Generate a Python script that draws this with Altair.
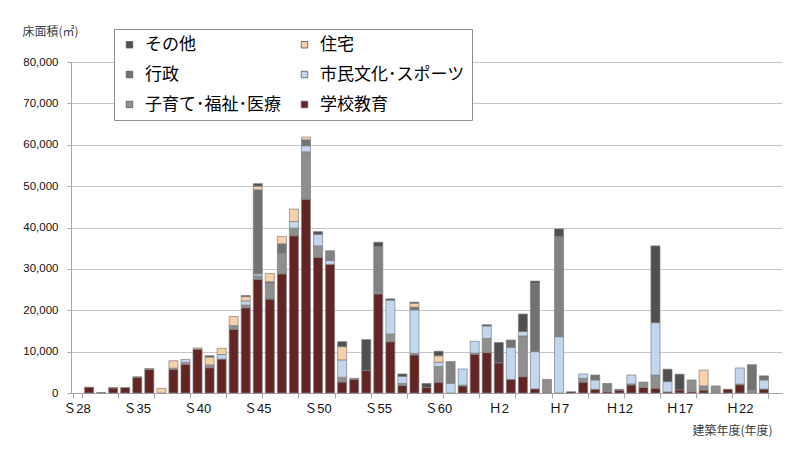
import altair as alt
import pandas as pd

# ---------------- data ----------------
labels = ["Ｓ28", "Ｓ31", "Ｓ32", "Ｓ33", "Ｓ34",
          "Ｓ35", "Ｓ36", "Ｓ37", "Ｓ38", "Ｓ39", "Ｓ40", "Ｓ41", "Ｓ42", "Ｓ43", "Ｓ44",
          "Ｓ45", "Ｓ46", "Ｓ47", "Ｓ48", "Ｓ49", "Ｓ50", "Ｓ51", "Ｓ52", "Ｓ53", "Ｓ54",
          "Ｓ55", "Ｓ56", "Ｓ57", "Ｓ58", "Ｓ59", "Ｓ60", "Ｓ61", "Ｓ62", "Ｓ63",
          "Ｈ1", "Ｈ2", "Ｈ3", "Ｈ4", "Ｈ5", "Ｈ6", "Ｈ7", "Ｈ8", "Ｈ9", "Ｈ10", "Ｈ11",
          "Ｈ12", "Ｈ13", "Ｈ14", "Ｈ15", "Ｈ16", "Ｈ17", "Ｈ18", "Ｈ19", "Ｈ20", "Ｈ21",
          "Ｈ22", "Ｈ23", "Ｈ24", "Ｈ25"]

label_shown = ["Ｓ28", "Ｓ35", "Ｓ40", "Ｓ45", "Ｓ50", "Ｓ55", "Ｓ60",
               "Ｈ2", "Ｈ7", "Ｈ12", "Ｈ17", "Ｈ22"]

school = [0, 1400, 100, 1200, 1300, 3800, 5700, 0, 5700, 6900,
          10600, 6100, 8200, 15400, 20600, 27500, 22700, 28800, 38000, 46850,
          32800, 31100, 2650, 3300, 5500, 23950, 12400, 1800, 9200, 1300,
          2600, 0, 1700, 9350, 9750, 7300, 3300, 3950, 1000, 0,
          0, 300, 2600, 900, 300, 700, 1950, 1350, 1150, 250,
          750, 300, 700, 0, 900, 2000, 0, 950, 0]
child = [0, 0, 0, 100, 0, 100, 200, 0, 300, 500,
         0, 700, 0, 900, 650, 800, 3900, 5000, 1850, 11450,
         2750, 0, 1150, 250, 0, 550, 1850, 500, 400, 0,
         3800, 0, 200, 300, 3450, 0, 0, 9850, 0, 3300,
         0, 0, 950, 0, 0, 200, 250, 1300, 3200, 0,
         0, 2850, 1000, 1700, 0, 150, 700, 0, 0]
civic = [0, 0, 0, 0, 0, 0, 0, 0, 0, 700,
         0, 0, 1100, 0, 1000, 500, 0, 0, 1600, 1450,
         2800, 900, 4200, 0, 0, 0, 8200, 1700, 10500, 0,
         1050, 2350, 3900, 2850, 3000, 0, 7750, 1050, 9000, 0,
         13600, 0, 1050, 2250, 0, 0, 2150, 0, 12650, 2500,
         0, 0, 0, 0, 0, 3900, 0, 2200, 0]
admin = [0, 0, 0, 0, 0, 0, 0, 0, 0, 0,
         0, 0, 0, 0, 0, 20300, 300, 2250, 0, 1450,
         0, 0, 0, 0, 0, 0, 0, 0, 650, 0,
         0, 0, 0, 0, 0, 0, 1750, 0, 16500, 0,
         0, 0, 0, 1200, 0, 0, 0, 0, 0, 0,
         0, 0, 0, 0, 0, 0, 6150, 1000, 0]
housing = [0, 0, 0, 0, 0, 0, 0, 1100, 1800, 0,
           300, 1900, 1500, 2200, 1050, 900, 2000, 1800, 3000, 650,
           0, 0, 3200, 0, 0, 0, 0, 0, 950, 0,
           1550, 0, 0, 0, 0, 0, 0, 0, 0, 0,
           0, 0, 0, 0, 0, 0, 0, 0, 0, 0,
           0, 0, 3850, 0, 0, 0, 0, 0, 0]
industry = [0, 0, 0, 0, 0, 0, 0, 0, 0, 0,
            0, 0, 0, 0, 0, 0, 0, 0, 0, 0,
            0, 2400, 0, 0, 0, 10900, 0, 0, 0, 0,
            0, 5250, 0, 0, 0, 0, 0, 0, 0, 0,
            24200, 0, 0, 0, 2000, 0, 0, 0, 0, 0,
            0, 0, 0, 0, 0, 0, 0, 0, 0]
other = [0, 0, 0, 0, 0, 0, 0, 0, 0, 0,
         0, 300, 0, 0, 250, 600, 0, 0, 0, 0,
         650, 0, 1200, 0, 7400, 1050, 300, 600, 250, 1000,
         1100, 0, 0, 0, 300, 4900, 0, 4250, 550, 0,
         1850, 0, 0, 0, 0, 0, 0, 0, 18550, 3000,
         3800, 0, 0, 0, 0, 0, 0, 0, 0]

# stack order (bottom -> top)
series = [
    ("学校教育", school),
    ("子育て･福祉･医療", child),
    ("市民文化･スポーツ", civic),
    ("行政", admin),
    ("住宅", housing),
    ("産業系施設", industry),
    ("その他", other),
]

# legend entries fill column by column (3 rows x 2 columns)
legend_order = ["その他", "行政", "子育て･福祉･医療", "住宅", "市民文化･スポーツ", "学校教育"]
color_domain = legend_order + ["産業系施設"]
color_range = ["#505050", "#727272", "#8f8f8f", "#f7cfa8", "#c3d6ef", "#632523", "#828282"]

rows = []
for rank, (name, vals) in enumerate(series):
    for cat, v in zip(labels, vals):
        if v > 0:
            rows.append({"cat": cat, "series": name, "value": v, "rank": rank})
df = pd.DataFrame(rows)

JP = "'Noto Sans CJK JP'"
NUM = "'Liberation Sans', 'Noto Sans CJK JP'"

xscale = alt.Scale(domain=labels, paddingInner=0.25, paddingOuter=0.125)

bars = alt.Chart(df).mark_bar(stroke="#7f7f7f", strokeWidth=0.7).encode(
    x=alt.X("cat:N", sort=labels, scale=xscale,
            axis=alt.Axis(values=label_shown, ticks=False, domain=True,
                          domainColor="#a6a6a6", labelAngle=0, labelFont=NUM,
                          labelFontSize=13, labelColor="#111", labelPadding=9,
                          title="建築年度(年度)", titleFont=JP, titleFontSize=12,
                          titleFontWeight="normal", titleColor="#404040",
                          titleX=661, titleY=37, titleAlign="center",
                          titleBaseline="middle")),
    y=alt.Y("value:Q", stack="zero",
            scale=alt.Scale(domain=[0, 80000], nice=False),
            axis=alt.Axis(values=list(range(0, 80001, 10000)),
                          labelExpr="format(datum.value, ',')",
                          grid=True, gridColor="#c6c6c6", domainColor="#a6a6a6",
                          tickColor="#a6a6a6", tickSize=4, labelFont=NUM,
                          labelFontSize=11.5, labelColor="#111", labelPadding=9,
                          title="床面積(㎡)", titleFont=JP, titleFontSize=12,
                          titleFontWeight="normal", titleColor="#404040",
                          titleAngle=0, titleX=-49, titleY=-31,
                          titleAlign="left", titleBaseline="middle")),
    color=alt.Color("series:N",
                    scale=alt.Scale(domain=color_domain, range=color_range),
                    legend=alt.Legend(values=legend_order, title=None,
                                      orient="none", legendX=43, legendY=-33,
                                      columns=2, symbolType="square",
                                      symbolSize=42, symbolStrokeColor="#555555",
                                      symbolStrokeWidth=0.8, labelFont=JP,
                                      labelFontSize=17, labelColor="#000",
                                      labelOffset=7, labelLimit=300,
                                      labelExpr="datum.label == '市民文化･スポーツ' ? datum.label + '\u3000\u3000\u2005' : datum.label",
                                      rowPadding=12, columnPadding=15,
                                      padding=7, strokeColor="#8c8c8c",
                                      fillColor="white")),
    order=alt.Order("rank:Q", sort="ascending"),
)

ticks = alt.Chart(df).mark_rule(opacity=0).encode(
    x=alt.X("cat:N", sort=labels, scale=xscale,
            axis=alt.Axis(orient="bottom", values=labels[::3], tickBand="extent",
                          labels=False, domain=False, grid=False, title=None,
                          tickSize=5, tickColor="#a6a6a6")),
    y=alt.value(0),
    y2=alt.value(1),
)

chart = alt.layer(bars, ticks).resolve_axis(x="independent").properties(
    width=711, height=331,
    padding={"left": 63, "top": 54, "right": 10, "bottom": 55},
    autosize=alt.AutoSizeParams(type="none"),
).configure_view(stroke=None)

chart.save("out.html", embed_options={"renderer": "svg", "actions": False})
